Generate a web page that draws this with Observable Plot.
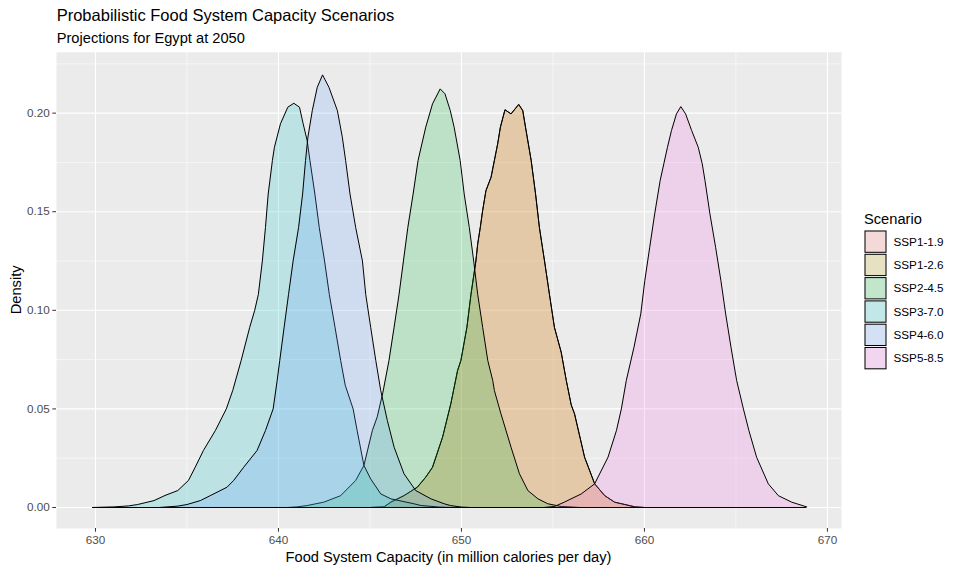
<!DOCTYPE html>
<html>
<head>
<meta charset="utf-8">
<script src="https://cdn.jsdelivr.net/npm/d3@7"></script>
<script src="https://cdn.jsdelivr.net/npm/@observablehq/plot@0.6"></script>
<style>
  html, body { margin: 0; padding: 0; background: white; }
  #chart { position: relative; width: 961px; height: 573px; }
</style>
</head>
<body>
<div id="chart"></div>
<script>
// ---- Data ----
const scenarios = ["SSP1-1.9", "SSP1-2.6", "SSP2-4.5", "SSP3-7.0", "SSP4-6.0", "SSP5-8.5"];
const colors = ["#F8766D", "#B79F00", "#00BA38", "#00BFC4", "#619CFF", "#F564E3"];
const xTicks = [630, 640, 650, 660, 670];
const xMinor = [635, 645, 655, 665];
const yTicks = [0, 0.05, 0.10, 0.15, 0.20];
const yMinor = [0.025, 0.075, 0.125, 0.175, 0.225];

// [capacity, density]
const ssp119 = [[645.0,0],[645.77,0.0003],[646.14,0.0027],[646.86,0.006],[647.59,0.0103],[648.05,0.0154],[648.42,0.0204],[648.97,0.0357],[649.42,0.0526],[649.79,0.0695],[649.97,0.0745],[650.3,0.0914],[650.52,0.108],[650.79,0.125],[650.89,0.1337],[651.03,0.142],[651.16,0.1506],[651.34,0.1607],[651.62,0.1675],[651.8,0.176],[651.98,0.1844],[652.13,0.1929],[652.38,0.2017],[652.71,0.1996],[653.13,0.2044],[653.35,0.2013],[653.5,0.1929],[653.81,0.176],[654.05,0.159],[654.26,0.142],[654.54,0.125],[654.81,0.108],[655.08,0.0914],[655.45,0.0788],[655.73,0.0644],[656.0,0.052],[656.18,0.0475],[656.73,0.0255],[657.28,0.012],[657.83,0.006],[658.37,0.0027],[659.5,0.0003],[660.0,0]];
const ssp126 = [[645.0,0],[645.77,0.0003],[646.14,0.0027],[646.86,0.006],[647.59,0.0103],[648.05,0.0154],[648.42,0.0204],[648.97,0.0357],[649.42,0.0526],[649.79,0.0695],[649.97,0.0745],[650.3,0.0914],[650.52,0.108],[650.79,0.125],[650.89,0.1337],[651.03,0.142],[651.16,0.1506],[651.34,0.1607],[651.62,0.1675],[651.8,0.176],[651.98,0.1844],[652.13,0.1929],[652.38,0.2017],[652.71,0.1996],[653.13,0.2044],[653.35,0.2013],[653.5,0.1929],[653.81,0.176],[654.05,0.159],[654.26,0.142],[654.54,0.125],[654.81,0.108],[655.08,0.0914],[655.45,0.0788],[655.73,0.0644],[656.0,0.052],[656.18,0.0475],[656.73,0.0255],[657.28,0.012],[657.83,0.006],[658.37,0.0027],[659.5,0.0003],[660.0,0]];
const ssp245 = [[640.5,0],[641.0,0.0003],[641.57,0.001],[642.48,0.0027],[643.4,0.006],[644.22,0.0137],[644.67,0.0213],[645.13,0.039],[645.4,0.046],[645.71,0.0585],[646.04,0.0745],[646.32,0.0914],[646.59,0.108],[646.83,0.125],[647.07,0.142],[647.36,0.159],[647.63,0.176],[648.05,0.1929],[648.42,0.2047],[648.84,0.2123],[649.1,0.2098],[649.39,0.2013],[649.6,0.1929],[649.93,0.176],[650.15,0.159],[650.43,0.142],[650.67,0.125],[650.89,0.108],[651.16,0.0914],[651.44,0.0745],[651.71,0.0644],[651.8,0.0593],[652.16,0.0475],[652.71,0.0306],[653.17,0.0171],[653.63,0.0086],[654.18,0.0044],[654.72,0.0019],[655.45,0.0005],[656.5,0]];
const ssp370 = [[629.85,0],[631.0,0.0003],[631.8,0.0008],[632.3,0.0015],[633.2,0.0035],[633.8,0.0061],[634.5,0.0086],[635.08,0.0137],[635.45,0.0204],[635.9,0.0289],[636.55,0.039],[637.15,0.05],[637.5,0.0593],[637.96,0.0745],[638.43,0.0914],[638.7,0.0999],[638.9,0.108],[639.12,0.125],[639.29,0.142],[639.44,0.159],[639.67,0.176],[639.78,0.1827],[640.11,0.1946],[640.51,0.203],[640.84,0.205],[641.15,0.203],[641.35,0.1946],[641.57,0.186],[641.72,0.176],[641.99,0.159],[642.23,0.142],[642.52,0.125],[642.78,0.108],[643.09,0.0914],[643.4,0.0745],[643.65,0.062],[644.08,0.05],[644.3,0.039],[644.67,0.0213],[645.04,0.0145],[645.59,0.0069],[646.14,0.0044],[647.4,0.0019],[647.8,0.001],[648.8,0.0002],[649.5,0]];
const ssp460 = [[633.5,0],[634.5,0.0007],[635.0,0.0015],[635.73,0.0035],[636.27,0.006],[637.19,0.0103],[637.55,0.0137],[638.1,0.0204],[638.83,0.0289],[639.29,0.039],[639.71,0.05],[639.93,0.0644],[640.07,0.0745],[640.31,0.0914],[640.55,0.108],[640.8,0.125],[641.1,0.142],[641.32,0.159],[641.48,0.176],[641.61,0.1878],[641.85,0.2013],[642.12,0.2131],[642.41,0.2194],[642.76,0.2131],[643.22,0.2013],[643.49,0.1878],[643.67,0.176],[643.91,0.159],[644.22,0.142],[644.59,0.125],[644.77,0.108],[645.04,0.0914],[645.32,0.0745],[645.59,0.0593],[645.95,0.0441],[646.32,0.0306],[646.86,0.0171],[647.5,0.0086],[648.33,0.0044],[649.05,0.0019],[649.4,0.001],[650.0,0.0002],[650.5,0]];
const ssp585 = [[654.5,0],[655.08,0.0005],[655.62,0.0027],[656.55,0.0069],[657.28,0.012],[658.01,0.0255],[658.47,0.039],[658.74,0.05],[659.01,0.0644],[659.43,0.0813],[659.8,0.0982],[660.02,0.115],[660.29,0.132],[660.56,0.1489],[660.86,0.1658],[661.06,0.1743],[661.26,0.1827],[661.48,0.1912],[661.75,0.1996],[661.99,0.2033],[662.25,0.1996],[662.58,0.1912],[662.94,0.1827],[663.16,0.1743],[663.31,0.1658],[663.58,0.1489],[663.89,0.132],[664.18,0.115],[664.44,0.0982],[664.73,0.0813],[665.04,0.0644],[665.41,0.05],[665.71,0.039],[666.13,0.0255],[666.77,0.012],[667.32,0.006],[668.05,0.0027],[668.87,0.0003]];

const curves = [ssp119, ssp126, ssp245, ssp370, ssp460, ssp585];
const title = "Probabilistic Food System Capacity Scenarios";
const subtitle = "Projections for Egypt at 2050";
const xLabel = "Food System Capacity (in million calories per day)";
const yLabel = "Density";
const legendTitle = "Scenario";

// ---- Build table ----
const rows = scenarios.flatMap((s, i) => curves[i].map(([x, d]) => ({scenario: s, x, d})));
const xExtent = d3.extent(rows, r => r.x);

const W = 961, H = 573;
const mL = 56, mR = 120, mT = 51.7, mB = 45;
const font = "'Liberation Sans', Arial, Helvetica, sans-serif";

const groupMarks = scenarios.flatMap(s => {
  const data = rows.filter(r => r.scenario === s);
  return [
    Plot.areaY(data, {x: "x", y1: () => 0, y2: "d", fill: "scenario", fillOpacity: 0.2}),
    Plot.line(data, {x: "x", y: "d", stroke: "black", strokeWidth: 1})
  ];
});

const plot = Plot.plot({
  width: W, height: H,
  marginLeft: mL, marginRight: mR, marginTop: mT, marginBottom: mB,
  style: {fontFamily: font, background: "white", overflow: "visible"},
  x: {domain: [627.87, 670.77]},
  y: {domain: [-0.01065, 0.2309]},
  color: {domain: scenarios, range: colors},
  marks: [
    Plot.frame({fill: "#EBEBEB", stroke: null}),
    Plot.gridX(xMinor, {stroke: "white", strokeOpacity: 1, strokeWidth: 0.55}),
    Plot.gridY(yMinor, {stroke: "white", strokeOpacity: 1, strokeWidth: 0.55}),
    Plot.gridX(xTicks, {stroke: "white", strokeOpacity: 1, strokeWidth: 1.1}),
    Plot.gridY(yTicks, {stroke: "white", strokeOpacity: 1, strokeWidth: 1.1}),
    ...groupMarks,
    Plot.ruleY([0], {x1: xExtent[0], x2: xExtent[1], stroke: "black", strokeWidth: 1}),
    Plot.axisX(xTicks, {tickSize: 3.7, tickPadding: 3, fontSize: 11.7, fill: "#4D4D4D", stroke: "#333333", label: null}),
    Plot.axisY(yTicks, {tickSize: 3.7, tickPadding: 3, fontSize: 11.7, fill: "#4D4D4D", stroke: "#333333", label: null, tickFormat: d3.format(".2f")})
  ]
});

document.getElementById("chart").appendChild(plot);

// ---- Titles & legend added into the SVG ----
const svg = d3.select(plot);
svg.append("text").attr("x", 56.7).attr("y", 21).attr("text-anchor", "start").attr("font-size", 16.5).attr("fill", "black")
  .attr("font-family", font).text(title);
svg.append("text").attr("x", 56.7).attr("y", 43.3).attr("text-anchor", "start").attr("font-size", 14.67).attr("fill", "black")
  .attr("font-family", font).text(subtitle);
svg.append("text").attr("x", (mL + (W - mR)) / 2).attr("y", 562).attr("text-anchor", "middle")
  .attr("font-size", 14.67).attr("fill", "black").attr("font-family", font).text(xLabel);
svg.append("text").attr("transform", `translate(20.5, ${(mT + (H - mB)) / 2}) rotate(-90)`)
  .attr("text-anchor", "middle").attr("font-size", 14.67).attr("fill", "black")
  .attr("font-family", font).text(yLabel);

const lg = svg.append("g").attr("transform", "translate(864, 0)").attr("text-anchor", "start");
lg.append("text").attr("x", 0).attr("y", 223.5).attr("text-anchor", "start").attr("font-size", 14.67).attr("fill", "black")
  .attr("font-family", font).text(legendTitle);
const keyTop = 230, keyH = 23.3;
scenarios.forEach((s, i) => {
  const y0 = keyTop + i * keyH;
  lg.append("rect").attr("x", 0).attr("y", y0).attr("width", 23).attr("height", keyH).attr("fill", "#F2F2F2");
  lg.append("rect").attr("x", 1).attr("y", y0 + 1).attr("width", 21).attr("height", keyH - 2)
    .attr("fill", colors[i]).attr("fill-opacity", 0.2).attr("stroke", "black").attr("stroke-width", 1);
  lg.append("text").attr("x", 29.5).attr("y", y0 + keyH / 2).attr("dy", "0.36em").attr("text-anchor", "start")
    .attr("font-size", 11.7).attr("fill", "black").attr("font-family", font).text(s);
});
</script>
</body>
</html>
